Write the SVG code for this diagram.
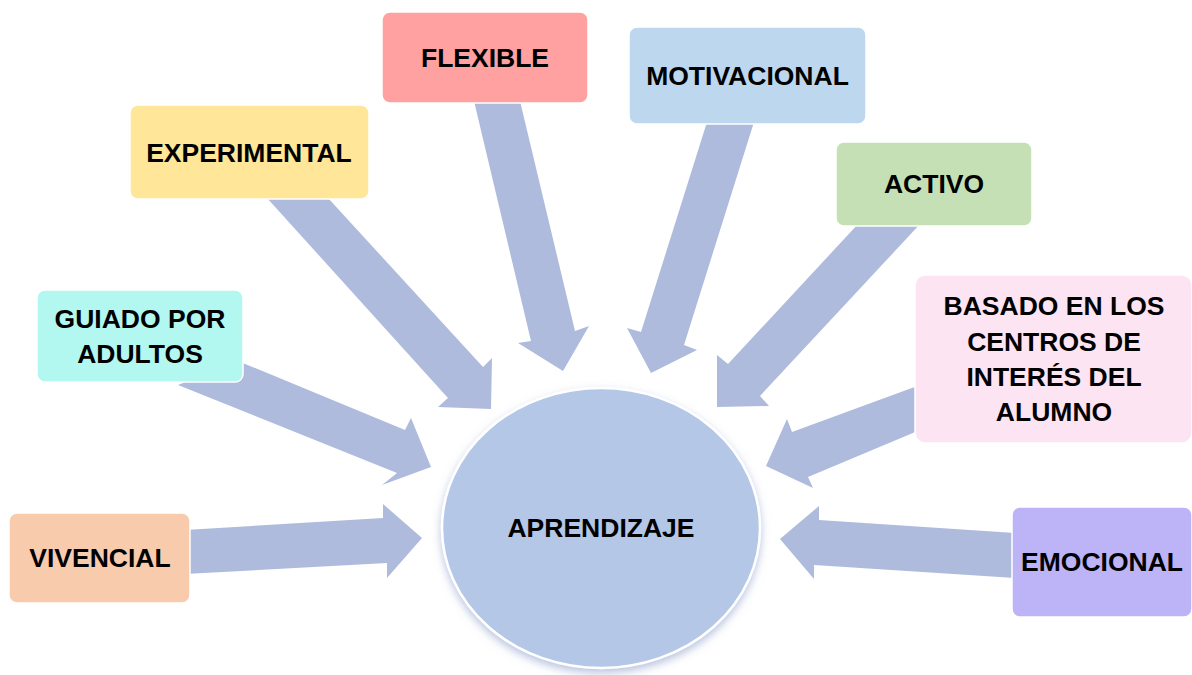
<svg xmlns="http://www.w3.org/2000/svg" width="1192" height="675" viewBox="0 0 1192 675">
  <defs>
    <style>
      .arrow { fill: #aebbdd; }
      .box { stroke: #ffffff; stroke-width: 1.5; }
      .lbl { font-family: "Liberation Sans", Arial, sans-serif; font-weight: bold; font-size: 26.5px; fill: #000000; text-anchor: middle; }
    </style>
    <filter id="shadow" x="-20%" y="-20%" width="140%" height="140%">
      <feDropShadow dx="0" dy="4" stdDeviation="4" flood-color="#7f93c6" flood-opacity="0.55"/>
    </filter>
  </defs>
  <rect width="1192" height="675" fill="#ffffff"/>

  <g id="connectors">
    <polygon class="arrow" points="185,530 383,518 383,504 422,538 387,578 387,563 185,574"/>
    <polygon class="arrow" points="238,361 405,430 411,418 431,467 382,485 397,473 178,385"/>
    <polygon class="arrow" points="328,198 483,367 492,358 491,409 438,407 448,398 267,198"/>
    <polygon class="arrow" points="474,101 520,101 575,331 589,326 563,371 518,343 531,341"/>
    <polygon class="arrow" points="707,122 754,122 684,345 697,350 651,373 627,328 641,332"/>
    <polygon class="arrow" points="859,223 921,223 760,396 769,406 717,407 717,355 728,364"/>
    <polygon class="arrow" points="920,385 792,432 787,419 766,466 813,488 808,477 920,430"/>
    <polygon class="arrow" points="1015,533 819,520 819,506 780,539 814,579 814,565 1015,578"/>
  </g>

  <g id="aprendizaje">
    <ellipse cx="601" cy="528" rx="159" ry="140" fill="#b4c7e7" stroke="#ffffff" stroke-width="2.5" filter="url(#shadow)"/>
    <text class="lbl" x="601" y="537">APRENDIZAJE</text>
  </g>

  <g id="vivencial">
    <rect class="box" x="9" y="513" width="181" height="90" rx="8" fill="#f8cbad"/>
    <text class="lbl" x="100" y="567">VIVENCIAL</text>
  </g>

  <g id="guiado">
    <rect class="box" x="37" y="290" width="206" height="92" rx="8" fill="#b3f7f1"/>
    <text class="lbl" x="140" y="328">GUIADO POR</text>
    <text class="lbl" x="140" y="363">ADULTOS</text>
  </g>

  <g id="experimental">
    <rect class="box" x="130" y="105" width="239" height="94" rx="8" fill="#ffe699"/>
    <text class="lbl" x="249" y="162">EXPERIMENTAL</text>
  </g>

  <g id="flexible">
    <rect class="box" x="382" y="12" width="206" height="91" rx="8" fill="#ffa1a1"/>
    <text class="lbl" x="485" y="67">FLEXIBLE</text>
  </g>

  <g id="motivacional">
    <rect class="box" x="629" y="27" width="237" height="97" rx="8" fill="#bdd7ee"/>
    <text class="lbl" x="747.5" y="85">MOTIVACIONAL</text>
  </g>

  <g id="activo">
    <rect class="box" x="836" y="142" width="196" height="84" rx="8" fill="#c5e0b4"/>
    <text class="lbl" x="934" y="193">ACTIVO</text>
  </g>

  <g id="basado">
    <rect class="box" x="915" y="275" width="277" height="168" rx="10" fill="#fce4f3"/>
    <text class="lbl" x="1054" y="315">BASADO EN LOS</text>
    <text class="lbl" x="1054" y="351">CENTROS DE</text>
    <text class="lbl" x="1054" y="386">INTERÉS DEL</text>
    <text class="lbl" x="1054" y="421">ALUMNO</text>
  </g>

  <g id="emocional">
    <rect class="box" x="1012" y="507" width="180" height="110" rx="8" fill="#bcb4f7"/>
    <text class="lbl" x="1102" y="571">EMOCIONAL</text>
  </g>
</svg>
